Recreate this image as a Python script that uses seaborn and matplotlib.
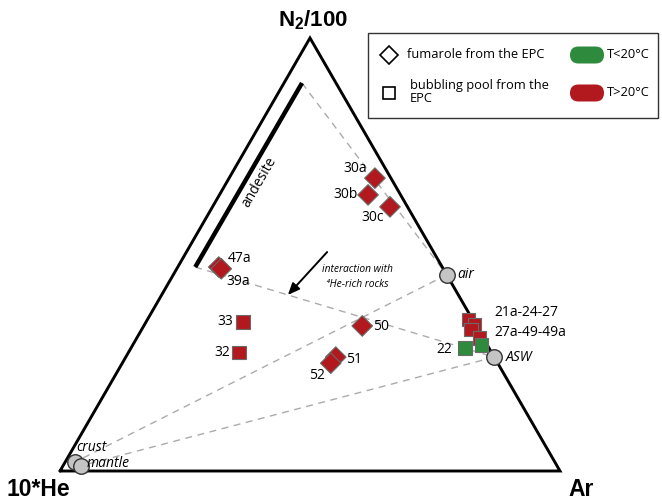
import numpy as np
import pandas as pd
import matplotlib
matplotlib.use("Agg")
import matplotlib.pyplot as plt
import seaborn as sns
from matplotlib.patches import FancyBboxPatch

# ---- sample compositions (relative %, N2/100 - 10*He - Ar) ----
sample_id = ["30a", "30b", "30c", "47a", "39a", "50", "51", "52",
             "33", "32", "21a", "24", "27", "27a", "22", "49a"]
n2 = [67.7, 63.7, 61.0, 47.1, 46.7, 33.5, 26.3, 24.9,
      34.4, 27.3, 34.9, 33.7, 32.6, 30.7, 28.4, 29.1]
he = [3.2, 6.5, 3.5, 44.7, 44.4, 22.8, 31.7, 33.4,
      46.2, 50.6, 0.9, 0.2, 1.5, 0.7, 4.8, 1.1]
ar = [29.2, 29.7, 35.5, 8.2, 8.9, 43.7, 42.0, 41.7,
      19.4, 22.2, 64.2, 66.1, 65.9, 68.6, 66.8, 69.8]
kind = ["fumarole"] * 8 + ["pool"] * 8
temp = ["T>20°C"] * 14 + ["T<20°C"] * 2

# ---- reference end-members ----
ref_names = ["air", "ASW", "crust", "mantle"]
ref_n2 = [45.3, 26.3, 2.1, 1.2]
ref_he = [0.0, 0.0, 95.9, 95.2]
ref_ar = [54.7, 73.7, 2.0, 3.6]

# andesite field (constant Ar, N2 range)
andesite_n2 = [89.6, 47.1]
andesite_ar = [3.6, 3.5]

# dashed mixing lines between end-members
mixing = [("andesite_top", "air"), ("andesite_bottom", "ASW"),
          ("air", "crust"), ("ASW", "mantle")]


def tern(n, h, a):
    n, h, a = np.asarray(n, float), np.asarray(h, float), np.asarray(a, float)
    t = n + h + a
    N, A = n / t, a / t
    return A + N / 2.0, N * np.sqrt(3) / 2.0


def px(x, y):
    # figure pixel position -> plot coordinates
    return (x - 60) / 500.0, (471 - y) / 500.0


sns.set_style("white")
plt.rcParams["font.family"] = ["Open Sans", "DejaVu Sans"]
plt.rcParams["text.color"] = "black"
plt.rcParams["mathtext.fontset"] = "custom"
plt.rcParams["mathtext.rm"] = "Liberation Sans"
plt.rcParams["mathtext.bf"] = "Liberation Sans:bold"

fig = plt.figure(figsize=(6.62, 5.04), dpi=100)
ax = fig.add_axes([0, 0, 1, 1])
ax.set_xlim(-0.12, 1.204)
ax.set_ylim(-0.066, 0.942)
ax.set_aspect("equal")
ax.axis("off")

RED = "#b2191e"
GREEN = "#2e8a3c"
EDGE = "#6a6a6a"
LBL = 10

# triangle frame
tx, ty = tern([0, 0, 100, 0], [100, 0, 0, 100], [0, 100, 0, 0])
ax.plot(tx, ty, color="black", lw=2.1, solid_joinstyle="miter", zorder=2)

# andesite bar
axx, ayy = tern(andesite_n2, [100 - n - a for n, a in zip(andesite_n2, andesite_ar)], andesite_ar)
ax.plot(axx, ayy, color="black", lw=3.2, solid_capstyle="butt", zorder=2)
ax.text(*px(259, 182), "andesite", rotation=60, ha="center", va="center",
        fontsize=10, zorder=3)

# end-member positions
rx, ry = tern(ref_n2, ref_he, ref_ar)
pts = {name: (x, y) for name, x, y in zip(ref_names, rx, ry)}
pts["andesite_top"] = (axx[0], ayy[0])
pts["andesite_bottom"] = (axx[1], ayy[1])

for a, b in mixing:
    ax.plot([pts[a][0], pts[b][0]], [pts[a][1], pts[b][1]], color="#ababab",
            lw=1.0, dashes=(5, 4), zorder=1)

# samples
sx, sy = tern(n2, he, ar)
df = pd.DataFrame({"id": sample_id, "x": sx, "y": sy, "kind": kind, "temp": temp})
pal = {"T>20°C": RED, "T<20°C": GREEN}
sns.scatterplot(data=df[df.kind == "pool"], x="x", y="y", hue="temp", palette=pal,
                marker="s", s=90, edgecolor=EDGE, linewidth=0.8, legend=False,
                ax=ax, zorder=4)
sns.scatterplot(data=df[df.kind == "fumarole"], x="x", y="y", hue="temp", palette=pal,
                marker="D", s=110, edgecolor=EDGE, linewidth=0.8, legend=False,
                ax=ax, zorder=5)

# end-member circles
ref_df = pd.DataFrame({"name": ref_names, "x": rx, "y": ry})
sns.scatterplot(data=ref_df, x="x", y="y", color="#c4c4c4", s=125,
                edgecolor="#333333", linewidth=1.0, legend=False, ax=ax, zorder=3)
ax.set_xlabel("")
ax.set_ylabel("")

# sample labels (offsets in pixels)
lab = {
    "30a": (-8, 10, "right"), "30b": (-10, 0, "right"), "30c": (-6, -11, "right"),
    "47a": (9, 9, "left"), "39a": (5, -13, "left"), "50": (11, -1, "left"),
    "51": (10, -2, "left"), "52": (-6, -12, "right"), "33": (-10, 1, "right"),
    "32": (-9, 0, "right"), "22": (-13, -1, "right"),
}
for _, r in df.iterrows():
    if r["id"] in lab:
        dx, dy, ha = lab[r["id"]]
        ax.annotate(r["id"], (r.x, r.y), xytext=(dx, dy), textcoords="offset pixels",
                    ha=ha, va="center", fontsize=LBL, zorder=6)

ax.text(*px(494, 313), "21a-24-27", ha="left", va="center", fontsize=LBL)
ax.text(*px(494, 333), "27a-49-49a", ha="left", va="center", fontsize=LBL)

ref_lab = {"air": (11, 0), "ASW": (12, 0), "crust": (1, 14), "mantle": (6, 2)}
for name, x, y in zip(ref_names, rx, ry):
    dx, dy = ref_lab[name]
    ax.annotate(name, (x, y), xytext=(dx, dy), textcoords="offset pixels",
                ha="left", va="center", fontsize=LBL, style="italic", zorder=6)

# arrow: interaction with 4He-rich rocks
ax.annotate("", xy=px(286, 297), xytext=px(329, 250),
            arrowprops=dict(arrowstyle="-|>,head_length=0.7,head_width=0.3",
                            color="black", lw=1.4))
ax.text(*px(357, 277), "interaction with\n\u2074He-rich rocks", ha="center",
        va="center", fontsize=7.4, style="italic", linespacing=1.45)

# corner labels
ax.text(*px(313, 20), r"$\mathbf{N_2/100}$", ha="center", va="center", fontsize=16)
ax.text(*px(6, 490), "10*He", ha="left", va="center", fontsize=16.5,
        fontweight="bold", family="Liberation Sans")
ax.text(*px(568, 490), "Ar", ha="left", va="center", fontsize=16.5,
        fontweight="bold", family="Liberation Sans")

# legend box
x0, y0 = px(368, 118)
x1, y1 = px(658, 33)
ax.add_patch(plt.Rectangle((x0, y0), x1 - x0, y1 - y0, fill=False,
                           edgecolor="#333333", lw=1.0, zorder=6))
ax.plot(*px(389, 55), marker="D", ms=9.5, mfc="white", mec="black", mew=1.2, zorder=7)
ax.plot(*px(389, 93), marker="s", ms=9.0, mfc="white", mec="black", mew=1.2, zorder=7)
ax.text(*px(407, 55), "fumarole from the EPC", ha="left", va="center", fontsize=9.3)
ax.text(*px(410, 92), "bubbling pool from the\nEPC", ha="left", va="center",
        fontsize=9.3, linespacing=0.95)
for ycen, col, txt in [(55, GREEN, "T<20°C"), (93, RED, "T>20°C")]:
    cx, cy = px(587, ycen)
    w, h = 34 / 500, 17 / 500
    ax.add_patch(FancyBboxPatch((cx - w / 2, cy - h / 2), w, h,
                                boxstyle="round,pad=0,rounding_size=0.017",
                                facecolor=col, edgecolor="none", zorder=7))
    ax.text(*px(607, ycen), txt, ha="left", va="center", fontsize=9.3)

fig.savefig("out.png", dpi=100)
